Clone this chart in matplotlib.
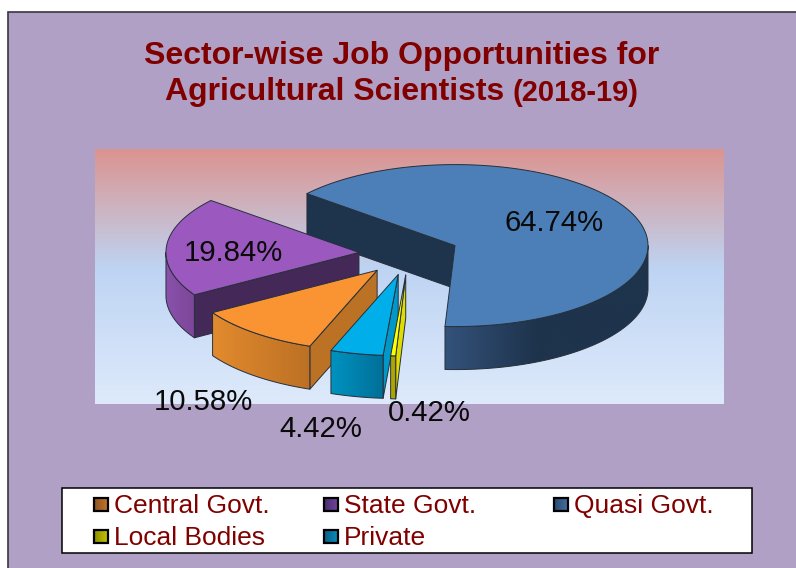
import numpy as np
import matplotlib
matplotlib.use("Agg")
import matplotlib.pyplot as plt
from matplotlib.colors import LinearSegmentedColormap, to_rgb
from matplotlib.patches import Polygon, Rectangle

plt.rcParams['font.family'] = ['Liberation Sans', 'DejaVu Sans']

# data
sectors = ["Central Govt.", "State Govt.", "Quasi Govt.", "Local Bodies", "Private"]
shares = [10.58, 19.84, 64.74, 0.42, 4.42]

# style per sector
top_colors = ["#FA9433", "#9B59C0", "#4C7FB8", "#FFFF00", "#00AEEA"]
cut_colors = ["#BC7224", "#432858", "#1E334C", "#E0DC00", "#0098C8"]
wall_left = ["#E28A2E", "#8A52AC", "#33527A", "#AFA800", "#0092C0"]
wall_right = ["#BC7024", "#7C4698", "#1E334C", "#A89F00", "#006F98"]
wall_fade = [1.0, 1.0, 0.45, 1.0, 1.0]
key_left = ["#8E5220", "#4A2C6C", "#2A4A70", "#8C8C00", "#075E84"]
key_right = ["#C0762E", "#70469C", "#44709F", "#C4C400", "#0E8CBC"]
label_xy = [(203, 402), (233, 253), (554, 223), (429, 413), (321, 429)]
key_xy = [(93, 497), (323, 497), (553, 497), (93, 529), (323, 529)]
draw_order = [2, 1, 0, 4, 3]

# pie layout in picture pixels
cx, cy = 409, 254
rx, ry = 193, 81
depth = 43
explode = 0.26
first_angle = -110.4
line_color = "#26303a"

fig = plt.figure(figsize=(7.96, 5.68), dpi=100, facecolor="white")
ax = fig.add_axes([0, 0, 1, 1])
ax.axis("off")


def rim(ox, oy, angles):
    rad = np.radians(angles)
    return np.column_stack([ox + rx * np.cos(rad), oy - ry * np.sin(rad)])


def shaded(corners, left, right, z, fade=1.0):
    # left to right gradient clipped to a polygon
    corners = np.asarray(corners)
    x0, x1 = corners[:, 0].min(), corners[:, 0].max()
    y0, y1 = corners[:, 1].min(), corners[:, 1].max()
    cmap = LinearSegmentedColormap.from_list("s", [(0, to_rgb(left)), (fade, to_rgb(right)), (1, to_rgb(right))])
    im = ax.imshow(np.linspace(0, 1, 200).reshape(1, -1), extent=(x0, x1, y1, y0), cmap=cmap,
                   aspect="auto", zorder=z, interpolation="bilinear")
    clip = Polygon(corners, transform=ax.transData, facecolor="none", edgecolor="none")
    im.set_clip_path(clip)


def draw_slice(i, a1, a2, z):
    mid = np.radians((a1 + a2) / 2)
    ox = cx + explode * rx * np.cos(mid)
    oy = cy - explode * ry * np.sin(mid)
    edge = dict(edgecolor=line_color, linewidth=0.7, joinstyle="round")

    # cut faces turned toward the viewer
    for ang, turn in ((a1, 90), (a2, -90)):
        if np.sin(np.radians(ang + turn)) < 0:
            p = rim(ox, oy, [ang])[0]
            ax.add_patch(Polygon([(ox, oy), p, (p[0], p[1] + depth), (ox, oy + depth)],
                                 facecolor=cut_colors[i], zorder=z, **edge))

    # front part of the rim
    lo, hi = max(a2, -180), min(a1, 0)
    if hi > lo:
        pts = rim(ox, oy, np.linspace(hi, lo, 90))
        lower = pts + [0, depth]
        outline = np.vstack([pts, lower[::-1]])
        shaded(outline, wall_left[i], wall_right[i], z, wall_fade[i])
        ax.add_patch(Polygon(outline, facecolor="none", zorder=z, **edge))

    # top face
    angs = np.linspace(a1, a2, 120)
    ax.add_patch(Polygon(np.vstack([[ox, oy], rim(ox, oy, angs)]),
                         facecolor=top_colors[i], zorder=z, **edge))


# panel
ax.add_patch(Rectangle((8, 12), 900, 700, facecolor="#B0A0C6", edgecolor="#3a3440", linewidth=1.2, zorder=0))

# plot area gradient
wall_cmap = LinearSegmentedColormap.from_list(
    "wall", [(0, "#DB9490"), (0.47, "#BED4F3"), (1, "#DEEAFB")])
ax.imshow(np.linspace(0, 1, 256).reshape(-1, 1), extent=(95, 724, 404, 149), cmap=wall_cmap,
          aspect="auto", zorder=1)

# slices, each one runs clockwise from its start angle
starts = first_angle - np.concatenate([[0], np.cumsum(shares)[:-1]]) * 3.6
for z, i in enumerate(draw_order, start=2):
    a1 = (starts[i] + 180) % 360 - 180
    draw_slice(i, a1, a1 - shares[i] * 3.6, z)

# percent labels
for value, (x, y) in zip(shares, label_xy):
    ax.text(x, y, f"{value:.2f}%", fontsize=21.15, color="#0a0a0a", ha="center", va="center", zorder=20)

# title
title_color = "#800000"
ax.text(402, 56, "Sector-wise Job Opportunities for", fontsize=23, fontweight="bold",
        color=title_color, ha="center", va="center", zorder=20)
ax.text(165, 92, "Agricultural Scientists", fontsize=23, fontweight="bold",
        color=title_color, ha="left", va="center", zorder=20)
ax.text(513, 93, "(2018-19)", fontsize=21, fontweight="bold",
        color=title_color, ha="left", va="center", zorder=20)

# legend
ax.add_patch(Rectangle((62, 488), 690, 65, facecolor="white", edgecolor="black", linewidth=1.1, zorder=20))
for i, name in enumerate(sectors):
    x, y = key_xy[i]
    shaded([(x + 1, y + 1), (x + 15, y + 1), (x + 15, y + 14), (x + 1, y + 14)], key_left[i], key_right[i], 21)
    ax.add_patch(Rectangle((x + 1, y + 1), 14, 13, facecolor="none", edgecolor="black", linewidth=1.6, zorder=21))
    ax.text(x + 21, y + 9, name, fontsize=19, color=title_color, ha="left", va="center", zorder=21)

ax.set_xlim(0, 796)
ax.set_ylim(568, 0)
fig.savefig("out.png", dpi=100, facecolor="white")
